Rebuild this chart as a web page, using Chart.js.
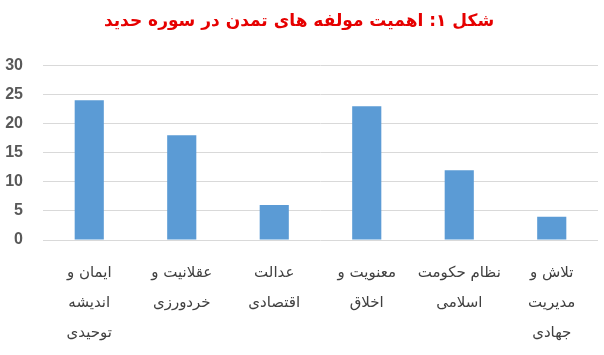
<!DOCTYPE html>
<html>
<head>
<meta charset="utf-8">
<script src="https://cdn.jsdelivr.net/npm/chart.js@4"></script>
<style>
  html, body { margin: 0; padding: 0; background: #fff; }
  #wrap { width: 604px; height: 355px; }
</style>
</head>
<body>
<div id="wrap"><canvas id="chart" width="604" height="355"></canvas></div>
<script>
// data
const titleText = 'شکل ۱: اهمیت مولفه های تمدن در سوره حدید';
const categories = [
    ['ایمان و', 'اندیشه', 'توحیدی'],
    ['عقلانیت و', 'خردورزی'],
    ['عدالت', 'اقتصادی'],
    ['معنویت و', 'اخلاق'],
    ['نظام حکومت', 'اسلامی'],
    ['تلاش و', 'مدیریت', 'جهادی']
];
const values = [24, 18, 6, 23, 12, 4];
const yTicks = [0, 5, 10, 15, 20, 25, 30];

document.addEventListener('DOMContentLoaded', function() {
    const ctx = document.getElementById('chart');

    new Chart(ctx, {
        type: 'bar',
        data: {
            labels: categories,
            datasets: [{
                data: values,
                backgroundColor: '#5b9bd5',
                borderWidth: 0,
                barPercentage: 0.63,
                categoryPercentage: 0.5
            }]
        },
        options: {
            responsive: false,
            animation: false,
            layout: { padding: { left: 0, right: 6, top: 0, bottom: 0 } },
            plugins: {
                legend: { display: false },
                tooltip: { enabled: false },
                title: {
                    display: true,
                    text: titleText,
                    color: '#e60000',
                    font: { family: 'DejaVu Sans', size: 17, weight: 'bold', lineHeight: 1.2 },
                    padding: { top: 11, bottom: 34 }
                }
            },
            scales: {
                x: {
                    grid: { display: false },
                    border: { display: false },
                    ticks: {
                        color: '#404040',
                        font: { family: 'DejaVu Sans', size: 15, lineHeight: 2.0 },
                        padding: 10,
                        maxRotation: 0,
                        autoSkip: false
                    },
                    afterFit: s => { s.height = 115; }
                },
                y: {
                    min: 0,
                    max: 30,
                    afterBuildTicks: s => { s.ticks = yTicks.map(v => ({ value: v })); },
                    grid: { color: '#d9d9d9', drawTicks: false },
                    border: { display: false },
                    ticks: {
                        color: '#595959',
                        font: { family: 'Liberation Sans', size: 16, weight: 'bold' },
                        padding: 20
                    },
                    afterFit: s => { s.width = 43; }
                }
            }
        }
    });
});
</script>
</body>
</html>
